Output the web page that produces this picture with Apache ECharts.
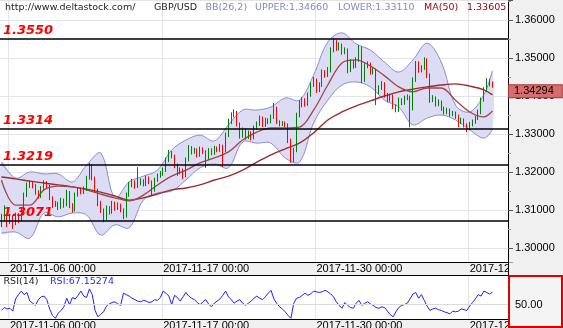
<!DOCTYPE html>
<html>
<head>
<meta charset="utf-8">
<script src="https://cdn.jsdelivr.net/npm/echarts@6/dist/echarts.min.js"></script>
<style>
html, body { margin: 0; padding: 0; background: #fff; }
#chart { width: 563px; height: 328px; }
</style>
</head>
<body>
<div id="chart"></div>
<script>
// GBP/USD, 4-hour candles with Bollinger Bands, MA(50) and RSI(14)
const site = 'http://www.deltastock.com/';
const symbol = 'GBP/USD';
const firstBar = '2017-11-03 12:00';
const emptySlots = 5;
const dateTicks = ['2017-11-06 00:00', '2017-11-17 00:00', '2017-11-30 00:00', '2017-12-13 00:00'];
const levels = [1.3550, 1.3314, 1.3219, 1.3071];

const opens = [
  1.3085, 1.3074, 1.3079, 1.3068, 1.3082, 1.3066, 1.3087, 1.3074, 1.3100, 1.3140,
  1.3166, 1.3171, 1.3163, 1.3147, 1.3137, 1.3158, 1.3171, 1.3163, 1.3132, 1.3113,
  1.3118, 1.3108, 1.3126, 1.3113, 1.3147, 1.3113, 1.3100, 1.3140, 1.3153, 1.3147,
  1.3155, 1.3184, 1.3216, 1.3184, 1.3153, 1.3118, 1.3100, 1.3079, 1.3105, 1.3095,
  1.3118, 1.3105, 1.3113, 1.3100, 1.3084, 1.3140, 1.3166, 1.3174, 1.3163, 1.3171,
  1.3176, 1.3168, 1.3184, 1.3174, 1.3153, 1.3179, 1.3190, 1.3195, 1.3205, 1.3232,
  1.3250, 1.3242, 1.3218, 1.3200, 1.3205, 1.3190, 1.3232, 1.3263, 1.3253, 1.3258,
  1.3245, 1.3261, 1.3253, 1.3237, 1.3258, 1.3250, 1.3263, 1.3258, 1.3268, 1.3258,
  1.3297, 1.3332, 1.3350, 1.3358, 1.3326, 1.3295, 1.3311, 1.3292, 1.3303, 1.3290,
  1.3316, 1.3326, 1.3342, 1.3324, 1.3337, 1.3332, 1.3345, 1.3368, 1.3332, 1.3326,
  1.3329, 1.3324, 1.3284, 1.3232, 1.3258, 1.3350, 1.3376, 1.3390, 1.3379, 1.3403,
  1.3429, 1.3442, 1.3416, 1.3429, 1.3463, 1.3455, 1.3468, 1.3521, 1.3542, 1.3526,
  1.3534, 1.3516, 1.3521, 1.3468, 1.3490, 1.3479, 1.3495, 1.3526, 1.3442, 1.3479,
  1.3484, 1.3463, 1.3468, 1.3411, 1.3421, 1.3432, 1.3403, 1.3390, 1.3400, 1.3374,
  1.3363, 1.3390, 1.3382, 1.3395, 1.3397, 1.3368, 1.3442, 1.3487, 1.3468, 1.3474,
  1.3495, 1.3455, 1.3390, 1.3395, 1.3379, 1.3384, 1.3368, 1.3358, 1.3363, 1.3353,
  1.3355, 1.3347, 1.3332, 1.3337, 1.3324, 1.3316, 1.3326, 1.3332, 1.3342, 1.3358,
  1.3390, 1.3416, 1.3437, 1.3432
];
const closes = [
  1.3074, 1.3079, 1.3068, 1.3082, 1.3066, 1.3087, 1.3074, 1.3100, 1.3140, 1.3166,
  1.3171, 1.3163, 1.3147, 1.3137, 1.3158, 1.3171, 1.3163, 1.3132, 1.3113, 1.3118,
  1.3108, 1.3126, 1.3113, 1.3147, 1.3113, 1.3100, 1.3140, 1.3153, 1.3147, 1.3155,
  1.3184, 1.3216, 1.3184, 1.3153, 1.3118, 1.3100, 1.3079, 1.3105, 1.3095, 1.3118,
  1.3105, 1.3113, 1.3100, 1.3084, 1.3140, 1.3166, 1.3174, 1.3163, 1.3171, 1.3176,
  1.3168, 1.3184, 1.3174, 1.3153, 1.3179, 1.3190, 1.3195, 1.3205, 1.3232, 1.3250,
  1.3242, 1.3218, 1.3200, 1.3205, 1.3190, 1.3232, 1.3263, 1.3253, 1.3258, 1.3245,
  1.3261, 1.3253, 1.3237, 1.3258, 1.3250, 1.3263, 1.3258, 1.3268, 1.3258, 1.3297,
  1.3332, 1.3350, 1.3358, 1.3326, 1.3295, 1.3311, 1.3292, 1.3303, 1.3290, 1.3316,
  1.3326, 1.3342, 1.3324, 1.3337, 1.3332, 1.3345, 1.3368, 1.3332, 1.3326, 1.3329,
  1.3324, 1.3284, 1.3232, 1.3258, 1.3350, 1.3376, 1.3390, 1.3379, 1.3403, 1.3429,
  1.3442, 1.3416, 1.3429, 1.3463, 1.3455, 1.3468, 1.3521, 1.3542, 1.3526, 1.3534,
  1.3516, 1.3521, 1.3468, 1.3490, 1.3479, 1.3495, 1.3526, 1.3442, 1.3479, 1.3484,
  1.3463, 1.3468, 1.3411, 1.3421, 1.3432, 1.3403, 1.3390, 1.3400, 1.3374, 1.3363,
  1.3390, 1.3382, 1.3395, 1.3397, 1.3368, 1.3442, 1.3487, 1.3468, 1.3474, 1.3495,
  1.3455, 1.3390, 1.3395, 1.3379, 1.3384, 1.3368, 1.3358, 1.3363, 1.3353, 1.3355,
  1.3347, 1.3332, 1.3337, 1.3324, 1.3316, 1.3326, 1.3332, 1.3342, 1.3358, 1.3390,
  1.3416, 1.3437, 1.3432, 1.34294
];
const highs = [
  1.3090, 1.3112, 1.3084, 1.3090, 1.3086, 1.3093, 1.3092, 1.3105, 1.3146, 1.3172,
  1.3178, 1.3176, 1.3168, 1.3152, 1.3163, 1.3178, 1.3176, 1.3166, 1.3136, 1.3124,
  1.3122, 1.3132, 1.3130, 1.3153, 1.3150, 1.3118, 1.3146, 1.3160, 1.3158, 1.3162,
  1.3190, 1.3224, 1.3220, 1.3188, 1.3156, 1.3124, 1.3104, 1.3112, 1.3110, 1.3124,
  1.3122, 1.3120, 1.3117, 1.3104, 1.3146, 1.3174, 1.3182, 1.3178, 1.3213, 1.3183,
  1.3181, 1.3190, 1.3188, 1.3178, 1.3185, 1.3196, 1.3202, 1.3212, 1.3238, 1.3258,
  1.3255, 1.3246, 1.3222, 1.3212, 1.3209, 1.3238, 1.3271, 1.3268, 1.3264, 1.3262,
  1.3267, 1.3265, 1.3257, 1.3263, 1.3262, 1.3269, 1.3267, 1.3274, 1.3272, 1.3304,
  1.3340, 1.3357, 1.3365, 1.3361, 1.3330, 1.3317, 1.3315, 1.3309, 1.3307, 1.3322,
  1.3333, 1.3349, 1.3346, 1.3343, 1.3341, 1.3351, 1.3382, 1.3372, 1.3336, 1.3334,
  1.3333, 1.3328, 1.3288, 1.3264, 1.3356, 1.3389, 1.3397, 1.3394, 1.3409, 1.3436,
  1.3450, 1.3446, 1.3436, 1.3470, 1.3468, 1.3476, 1.3528, 1.3553, 1.3547, 1.3541,
  1.3538, 1.3528, 1.3525, 1.3497, 1.3495, 1.3502, 1.3534, 1.3530, 1.3486, 1.3491,
  1.3488, 1.3475, 1.3472, 1.3428, 1.3439, 1.3436, 1.3408, 1.3406, 1.3404, 1.3378,
  1.3396, 1.3394, 1.3401, 1.3404, 1.3401, 1.3449, 1.3492, 1.3491, 1.3481, 1.3502,
  1.3499, 1.3459, 1.3402, 1.3399, 1.3391, 1.3388, 1.3372, 1.3369, 1.3367, 1.3361,
  1.3359, 1.3351, 1.3343, 1.3341, 1.3328, 1.3332, 1.3338, 1.3348, 1.3364, 1.3396,
  1.3423, 1.3447, 1.3445, 1.3438
];
const lows = [
  1.3055, 1.3070, 1.3055, 1.3063, 1.3050, 1.3060, 1.3066, 1.3070, 1.3095, 1.3134,
  1.3158, 1.3157, 1.3140, 1.3130, 1.3132, 1.3153, 1.3156, 1.3126, 1.3105, 1.3108,
  1.3100, 1.3103, 1.3106, 1.3110, 1.3105, 1.3093, 1.3096, 1.3135, 1.3141, 1.3142,
  1.3150, 1.3180, 1.3178, 1.3147, 1.3110, 1.3092, 1.3068, 1.3074, 1.3088, 1.3090,
  1.3098, 1.3100, 1.3094, 1.3076, 1.3080, 1.3135, 1.3160, 1.3156, 1.3158, 1.3165,
  1.3162, 1.3163, 1.3168, 1.3137, 1.3148, 1.3174, 1.3185, 1.3190, 1.3200, 1.3226,
  1.3236, 1.3210, 1.3190, 1.3194, 1.3182, 1.3186, 1.3228, 1.3246, 1.3248, 1.3238,
  1.3240, 1.3247, 1.3211, 1.3232, 1.3244, 1.3245, 1.3252, 1.3253, 1.3213, 1.3252,
  1.3292, 1.3326, 1.3344, 1.3320, 1.3288, 1.3290, 1.3285, 1.3287, 1.3283, 1.3286,
  1.3311, 1.3321, 1.3318, 1.3319, 1.3326, 1.3328, 1.3340, 1.3326, 1.3320, 1.3321,
  1.3318, 1.3276, 1.3224, 1.3226, 1.3252, 1.3344, 1.3370, 1.3372, 1.3374, 1.3398,
  1.3424, 1.3408, 1.3410, 1.3424, 1.3448, 1.3450, 1.3462, 1.3515, 1.3519, 1.3520,
  1.3509, 1.3510, 1.3460, 1.3463, 1.3472, 1.3474, 1.3490, 1.3434, 1.3437, 1.3473,
  1.3456, 1.3457, 1.3376, 1.3405, 1.3416, 1.3396, 1.3383, 1.3385, 1.3366, 1.3357,
  1.3358, 1.3376, 1.3377, 1.3389, 1.3318, 1.3362, 1.3437, 1.3461, 1.3462, 1.3469,
  1.3447, 1.3382, 1.3384, 1.3372, 1.3373, 1.3361, 1.3351, 1.3352, 1.3346, 1.3347,
  1.3340, 1.3318, 1.3326, 1.3317, 1.3305, 1.3310, 1.3320, 1.3327, 1.3337, 1.3352,
  1.3385, 1.3410, 1.3425, 1.3422
];
const rsi = [
  42, 46, 44, 45, 41, 58, 64, 69, 64, 67,
  55, 52, 49, 57, 61, 62, 57, 44, 35, 31,
  38, 42, 47, 59, 50, 60, 58, 63, 69, 62,
  60, 72, 64, 42, 33, 37, 40, 48, 51, 53,
  54, 51, 49, 66, 64, 62, 59, 57, 55, 54,
  56, 55, 53, 54, 57, 56, 60, 69, 66, 62,
  50, 63, 60, 55, 61, 67, 62, 59, 57, 53,
  50, 54, 57, 51, 47, 52, 55, 58, 63, 69,
  61, 57, 52, 55, 57, 52, 49, 52, 55, 59,
  62, 59, 57, 61, 66, 70, 58, 52, 47, 44,
  40, 35, 31, 52, 59, 60, 63, 66, 63, 65,
  69, 68, 67, 68, 70, 68, 65, 61, 54, 49,
  45, 53, 49, 46, 45, 52, 56, 49, 52, 54,
  51, 49, 46, 45, 47, 46, 41, 36, 33, 40,
  46, 49, 50, 52, 58, 65, 67, 59, 64, 56,
  48, 42, 44, 45, 43, 42, 40, 39, 37, 41,
  40, 41, 44, 43, 42, 48, 53, 58, 64, 62,
  69, 67, 65, 67.15274
];

// indicator readings, one every five bars plus the last bar
const bandIdx = [0, 5, 10, 15, 20, 25, 30, 35, 40, 45, 50, 55, 60, 65, 70, 75, 80, 85,
  90, 95, 100, 105, 110, 115, 120, 125, 130, 135, 140, 145, 150, 155, 160, 165, 170, 173];
const bbUpper = [1.3226, 1.3184, 1.3200, 1.3195, 1.3195, 1.3174, 1.3218, 1.3250, 1.3132, 1.3174,
  1.3189, 1.3205, 1.3258, 1.3284, 1.3297, 1.3282, 1.3324, 1.3363, 1.3363, 1.3371,
  1.3395, 1.3389, 1.3455, 1.3542, 1.3566, 1.3537, 1.3521, 1.3489, 1.3463, 1.3495,
  1.3539, 1.3489, 1.3376, 1.3358, 1.3403, 1.34660];
const bbLower = [1.3039, 1.3042, 1.3026, 1.3092, 1.3082, 1.3092, 1.3087, 1.3034, 1.3061, 1.3053,
  1.3126, 1.3145, 1.3150, 1.3179, 1.3211, 1.3221, 1.3211, 1.3279, 1.3276, 1.3276,
  1.3237, 1.3226, 1.3329, 1.3389, 1.3429, 1.3437, 1.3424, 1.3389, 1.3371, 1.3324,
  1.3342, 1.3350, 1.3337, 1.3311, 1.3289, 1.33110];
const bbMid = [1.3187, 1.3182, 1.3176, 1.3171, 1.3166, 1.3161, 1.3155, 1.3147, 1.3137, 1.3126,
  1.3132, 1.3142, 1.3153, 1.3158, 1.3166, 1.3179, 1.3189, 1.3205, 1.3226, 1.3245,
  1.3261, 1.3276, 1.3303, 1.3337, 1.3358, 1.3374, 1.3387, 1.3400, 1.3411, 1.3418,
  1.3424, 1.3429, 1.3432, 1.3426, 1.3416, 1.3403];
const ma50 = [1.3179, 1.3113, 1.3113, 1.3153, 1.3163, 1.3161, 1.3153, 1.3142, 1.3132, 1.3124,
  1.3139, 1.3166, 1.3189, 1.3205, 1.3224, 1.3237, 1.3253, 1.3284, 1.3305, 1.3316,
  1.3316, 1.3318, 1.3363, 1.3429, 1.3487, 1.3495, 1.3479, 1.3453, 1.3424, 1.3411,
  1.3421, 1.3421, 1.3389, 1.3358, 1.3345, 1.33605];

// ---- time axis: 4-hour bars, weekends skipped ----
function pad(n) { return String(n).padStart(2, '0'); }
function barTimes(start, n) {
  const [d, t] = start.split(' ');
  const [Y, M, D] = d.split('-').map(Number);
  const [h, m] = t.split(':').map(Number);
  let ms = Date.UTC(Y, M - 1, D, h, m);
  const out = [];
  while (out.length < n) {
    const dt = new Date(ms);
    const wd = dt.getUTCDay();
    if (wd !== 0 && wd !== 6) {
      out.push(dt.getUTCFullYear() + '-' + pad(dt.getUTCMonth() + 1) + '-' + pad(dt.getUTCDate()) +
        ' ' + pad(dt.getUTCHours()) + ':' + pad(dt.getUTCMinutes()));
    }
    ms += 4 * 3600 * 1000;
  }
  return out;
}
const times = barTimes(firstBar, closes.length + emptySlots);
const isTick = (idx, val) => dateTicks.indexOf(val) >= 0;

const last = a => a[a.length - 1];
const candles = closes.map((c, i) => [opens[i], c, lows[i], highs[i]]);
const pairs = arr => bandIdx.map((k, j) => [k, arr[j]]);

const LABEL_FONT = 'Liberation Sans';
const HEAD_FONT = '9.5px "DejaVu Sans", sans-serif';
const GRID_GRAY = '#e4e4e4';
const STRIP = '#f0f0f0';

function dateAxis(gridIndex, tickLen) {
  return {
    type: 'category', gridIndex, data: times, boundaryGap: true,
    axisLine: { onZero: false, lineStyle: { color: '#000', width: 1 } },
    axisTick: { interval: isTick, length: tickLen, lineStyle: { color: '#a8a8a8' } },
    axisLabel: { interval: isTick, align: 'left', margin: 1, fontSize: 11, color: '#000', fontFamily: LABEL_FONT },
    splitLine: { show: true, interval: isTick, lineStyle: { color: GRID_GRAY } }
  };
}

function headText(text, x, y, color) {
  return {
    type: 'text', z: 100, silent: true,
    style: { text, x, y, fill: color, font: HEAD_FONT, textAlign: 'left', textVerticalAlign: 'middle', align: 'left', verticalAlign: 'middle' }
  };
}

const chart = echarts.init(document.getElementById('chart'), null, { renderer: 'canvas' });
chart.setOption({
  animation: false,
  backgroundColor: '#fff',
  grid: [
    { left: 0, top: 0, width: 508, height: 262, outerBoundsMode: 'none' },
    { left: 0, top: 276, width: 508, height: 43, outerBoundsMode: 'none' }
  ],
  xAxis: [dateAxis(0, 13), dateAxis(1, 9)],
  yAxis: [
    {
      type: 'value', gridIndex: 0, position: 'right', min: 1.29632, max: 1.36526, splitNumber: 7, z: 0,
      axisLine: { show: true, lineStyle: { color: '#000' } },
      axisTick: { show: true, length: 5, lineStyle: { color: '#555' } },
      minorTick: { show: true, splitNumber: 2, length: 3, lineStyle: { color: '#999' } },
      axisLabel: { formatter: v => v.toFixed(5), margin: 7, fontSize: 11, color: '#000', fontFamily: LABEL_FONT, showMinLabel: false, showMaxLabel: false },
      splitLine: { show: true, lineStyle: { color: GRID_GRAY } }
    },
    {
      type: 'value', gridIndex: 1, position: 'right', min: 30, max: 90, interval: 20, z: 120,
      axisLine: { show: false }, axisTick: { show: false }, splitLine: { show: false },
      axisLabel: { formatter: v => (v === 50 ? v.toFixed(2) : ''), margin: 7, fontSize: 11, color: '#000', fontFamily: LABEL_FONT }
    }
  ],
  graphic: [
    { type: 'rect', z: -10, silent: true, shape: { x: 508, y: 0, width: 55, height: 276 }, style: { fill: STRIP } },
    { type: 'rect', z: -10, silent: true, shape: { x: 0, y: 262, width: 508, height: 13 }, style: { fill: STRIP } },
    { type: 'rect', z: -10, silent: true, shape: { x: 0, y: 319, width: 508, height: 9 }, style: { fill: STRIP } },
    { type: 'rect', z: 100, silent: true, shape: { x: 508.5, y: 262.5, width: 55, height: 13 }, style: { fill: STRIP } },
    { type: 'line', z: 101, silent: true, shape: { x1: 508.5, y1: 262, x2: 508.5, y2: 276 }, style: { stroke: '#000', lineWidth: 1 } },
    { type: 'line', z: 101, silent: true, shape: { x1: 0, y1: 275.5, x2: 508, y2: 275.5 }, style: { stroke: '#000', lineWidth: 1 } },
    { type: 'rect', z: 100, silent: true, shape: { x: 509, y: 276, width: 53, height: 51 }, style: { fill: '#f4f4f4', stroke: '#e00000', lineWidth: 2 } },
    headText(site, 5, 8, '#1e1e1e'),
    headText(symbol, 154, 8, '#1e1e1e'),
    headText('BB(26,2)', 205.5, 8, '#8686cc'),
    headText('UPPER:' + last(bbUpper).toFixed(5), 255, 8, '#8686cc'),
    headText('LOWER:' + last(bbLower).toFixed(5), 338, 8, '#8686cc'),
    headText('MA(50)', 424, 8, '#990000'),
    headText(last(ma50).toFixed(5), 467, 8, '#990000'),
    headText('RSI(14)', 3.5, 282, '#1e1e1e'),
    headText('RSI:' + last(rsi).toFixed(5), 50, 282, '#2b2bff')
  ],
  series: [
    {
      // Bollinger band envelope
      type: 'custom', xAxisIndex: 0, yAxisIndex: 0, z: 1, silent: true, clip: true,
      data: bandIdx.map((k, j) => [k, bbUpper[j], bbLower[j]]),
      renderItem: (params, api) => {
        if (params.dataIndex !== 0) return null;
        const up = bandIdx.map((k, j) => api.coord([k, bbUpper[j]]));
        const lo = bandIdx.map((k, j) => api.coord([k, bbLower[j]]));
        return {
          type: 'group',
          children: [
            { type: 'polygon', shape: { points: up.concat(lo.slice().reverse()), smooth: 0.35 }, style: { fill: '#dcdcf4' } },
            { type: 'polyline', shape: { points: up, smooth: 0.35 }, style: { stroke: '#8c8cd2', fill: null, lineWidth: 1 } },
            { type: 'polyline', shape: { points: lo, smooth: 0.35 }, style: { stroke: '#8c8cd2', fill: null, lineWidth: 1 } }
          ]
        };
      }
    },
    {
      name: 'BB mid', type: 'line', xAxisIndex: 0, yAxisIndex: 0, z: 3, silent: true,
      data: pairs(bbMid), smooth: 0.35, showSymbol: false,
      lineStyle: { color: '#9c2b2b', width: 1.4 }
    },
    {
      name: 'MA(50)', type: 'line', xAxisIndex: 0, yAxisIndex: 0, z: 3, silent: true,
      data: pairs(ma50), smooth: 0.35, showSymbol: false,
      lineStyle: { color: '#a34646', width: 1.3 }
    },
    {
      name: symbol, type: 'candlestick', xAxisIndex: 0, yAxisIndex: 0, z: 4, silent: true,
      data: candles, barWidth: 1,
      itemStyle: { color: '#008000', color0: '#ff0000', borderColor: '#008000', borderColor0: '#ff0000', borderWidth: 1 },
      markLine: {
        silent: true, symbol: ['none', 'none'], animation: false, precision: 5,
        data: levels.map(v => ({
          yAxis: v,
          lineStyle: { color: '#000', width: 1.5, type: 'solid' },
          label: {
            position: 'insideStartTop', distance: [3, 2], formatter: () => v.toFixed(4),
            color: '#ff0000', fontStyle: 'italic', fontWeight: 'bold', fontSize: 13, fontFamily: 'DejaVu Sans'
          }
        })).concat([{
          // current price tag on the price scale, hung just below the price level
          yAxis: last(closes),
          lineStyle: { color: 'rgba(0,0,0,0)', width: 0, type: 'solid' },
          label: {
            show: true, position: 'end', distance: 1, offset: [0, 6.5], formatter: () => last(closes).toFixed(5),
            backgroundColor: '#d96c6c', borderColor: '#a83232', borderWidth: 1, padding: [1, 8, 0, 5],
            color: '#000', fontSize: 11, fontStyle: 'normal', fontWeight: 'normal', fontFamily: LABEL_FONT
          }
        }])
      }
    },
    {
      name: 'RSI(14)', type: 'line', xAxisIndex: 1, yAxisIndex: 1, z: 3, silent: true,
      data: rsi, showSymbol: false,
      lineStyle: { color: '#1f1fff', width: 1 },
      markLine: {
        silent: true, symbol: ['none', 'none'], label: { show: false }, precision: 2,
        lineStyle: { color: '#dadada', width: 1, type: 'solid' },
        data: [{ yAxis: 50 }]
      }
    }
  ]
});
</script>
</body>
</html>
